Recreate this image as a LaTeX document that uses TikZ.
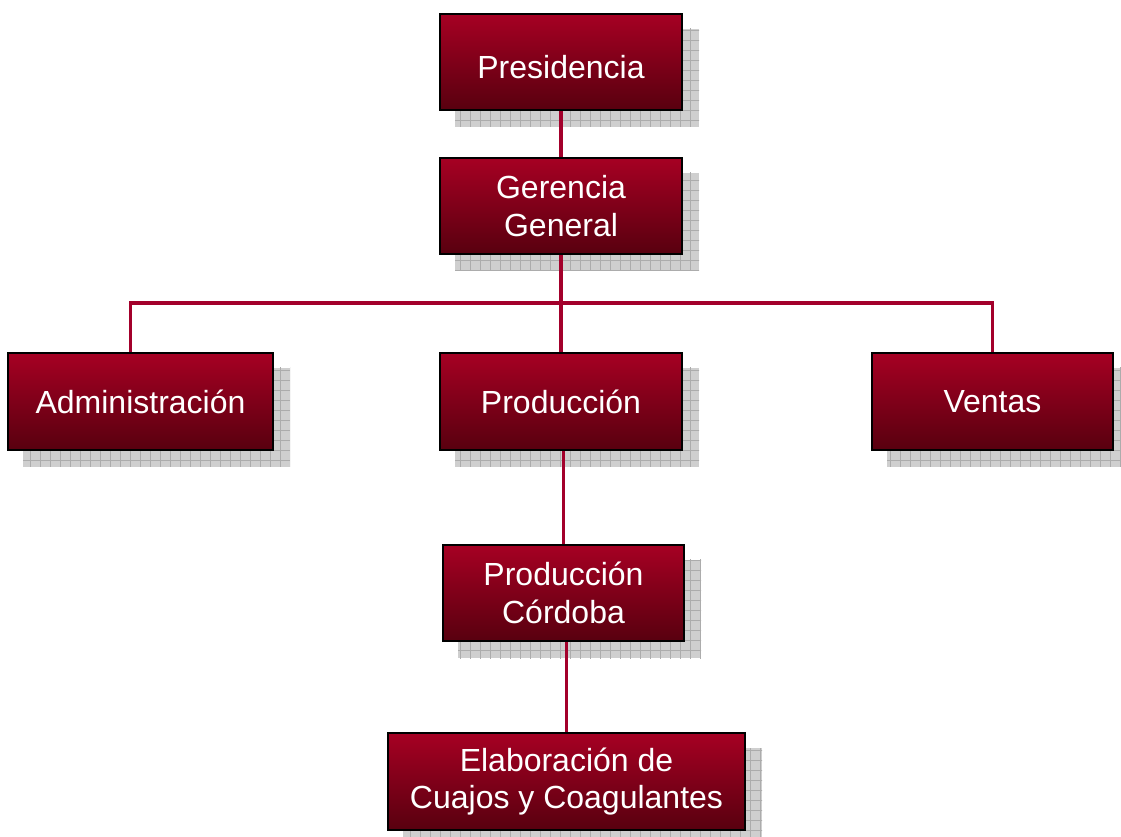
\documentclass[tikz,border=0pt]{standalone}
\usepackage{fontspec}
\setmainfont{Liberation Sans}
\usetikzlibrary{backgrounds}
\definecolor{boxtop}{HTML}{A60023}
\definecolor{boxbot}{HTML}{58000F}
\definecolor{linkred}{HTML}{A3002B}
\tikzset{
  unit box/.style={draw=black, line width=1.5pt, top color=boxtop, bottom color=boxbot,
    text=white, align=center, font=\fontsize{24}{28}\selectfont,
    minimum width=181.5pt, minimum height=72pt, inner sep=0pt},
  link/.style={draw=linkred, line width=2.6pt},
}
\begin{document}
\begin{tikzpicture}[x=0.75pt, y=-0.75pt]
        \useasboundingbox (0,0) rectangle (1121,837);
        \node[unit box] (pres) at (561,62) {\raisebox{-4pt}[\height][\depth]{Presidencia}};
        \node[unit box] (ger) at (561,206) {Gerencia\\General};
        \node[unit box, minimum width=198.75pt, minimum height=72.75pt] (adm) at (140.5,401.5) {Administración};
        \node[unit box, minimum height=72.75pt] (prod) at (561,401.5) {Producción};
        \node[unit box, minimum width=180.75pt, minimum height=72.75pt] (ven) at (992.5,401.5) {Ventas};
        \node[unit box, minimum width=180.75pt] (cor) at (563.5,593) {Producción\\Córdoba};
        \node[unit box, minimum width=267.75pt, minimum height=72.75pt] (elab) at (566.5,781.5) {Elaboración de\\Cuajos y Coagulantes};
        % gridded shadows
        \begin{scope}[on background layer]
          \foreach \n in {pres, ger, adm, prod, ven, cor, elab} {
            \begin{scope}
              \clip ([shift={(16,16)}]\n.north west) rectangle ([shift={(16,16)}]\n.south east);
              \fill[gray!38] ([shift={(16,16)}]\n.north west) rectangle ([shift={(16,16)}]\n.south east);
              \draw[gray!65, line width=0.5pt, step=7.5pt] (\n.north west) grid ([shift={(40,40)}]\n.south east);
            \end{scope}
          }
          % connectors
          \draw[link] (pres.south) -- (ger.north);
          \draw[link] (ger.south) -- ++(0,48) coordinate (bus);
          \draw[link] ([xshift=-7.5pt]adm.north) |- (bus) -| (ven.north);
          \draw[link] (bus) -- (prod.north);
          \draw[link] (prod.south -| cor.north) -- (cor.north);
          \draw[link] (cor.south -| elab.north) -- (elab.north);
        \end{scope}
      \end{tikzpicture}
\end{document}
